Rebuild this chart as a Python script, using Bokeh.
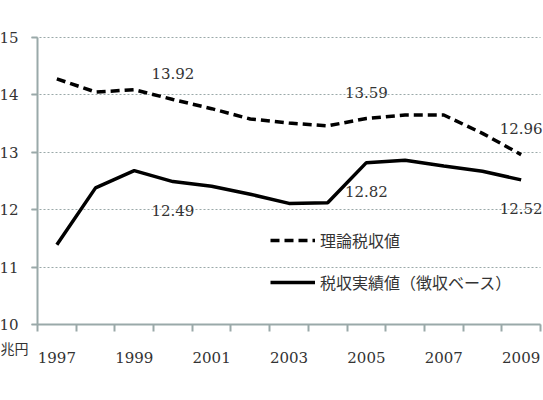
from bokeh.plotting import figure
from bokeh.models import FixedTicker, Legend, LegendItem, Label, Range1d, ColumnDataSource
from bokeh.embed import file_html
from bokeh.resources import INLINE
from bokeh.core.properties import value

# Fiscal years and tax revenue (trillion yen)
years = list(range(1997, 2010))
theory = [14.28, 14.05, 14.09, 13.92, 13.76, 13.58, 13.51, 13.46, 13.59, 13.65, 13.65, 13.33, 12.96]
actual = [11.39, 12.38, 12.68, 12.49, 12.41, 12.27, 12.11, 12.12, 12.82, 12.86, 12.76, 12.67, 12.52]
label_years = [2000, 2005, 2009]
year_ticks = [1997, 1999, 2001, 2003, 2005, 2007, 2009]
y_ticks = [10, 11, 12, 13, 14, 15]
name_theory = "理論税収値"
name_actual = "税収実績値（徴収ベース）"
unit = "兆円"

W, H = 543, 400
# plot box in pixels (left, right, top, bottom)
BL, BR, BT, BB = 37, 540, 37, 324

SERIF = "DejaVu Serif"
CJK = "Noto Sans CJK JP"
TEXT = "#333333"
AXIS = "#9aa9a9"

x0, x1 = years[0] - 0.5, years[-1] + 0.5
y0, y1 = y_ticks[0], y_ticks[-1]
kx = (x1 - x0) / (BR - BL)
ky = (y1 - y0) / (BB - BT)

# the frame fills the whole canvas; axes are pinned at the box edges
p = figure(width=W, height=H,
           x_range=Range1d(x0 - BL * kx, x1 + (W - BR) * kx),
           y_range=Range1d(y0 - (H - BB) * ky, y1 + BT * ky),
           output_backend="svg", toolbar_location=None, min_border=0)
p.outline_line_color = None
p.xgrid.grid_line_color = None
p.ygrid.grid_line_color = AXIS
p.ygrid.grid_line_dash = "2 2"
p.ygrid.grid_line_width = 1
p.ygrid.ticker = FixedTicker(ticks=y_ticks)
p.ygrid.bounds = (y0, y1)
p.ygrid.cross_bounds = (x0 - 6 * kx, x1)

p.xaxis.fixed_location = y0
p.yaxis.fixed_location = x0
p.xaxis.bounds = (x0, x1)
p.yaxis.bounds = (y0, y1)

# x axis: tick marks between years, labels on odd years
p.xaxis.ticker = FixedTicker(ticks=year_ticks,
                             minor_ticks=[y - 0.5 for y in years] + [x1])
p.xaxis.major_tick_out = 0
p.xaxis.major_tick_in = 0
p.xaxis.minor_tick_out = 7
p.xaxis.minor_tick_in = 0
p.xaxis.minor_tick_line_color = AXIS
p.xaxis.minor_tick_line_width = 2
p.xaxis.major_label_standoff = 20

p.yaxis.ticker = FixedTicker(ticks=y_ticks)
p.yaxis.major_tick_out = 6
p.yaxis.major_tick_in = 0
p.yaxis.minor_tick_line_color = None
p.yaxis.major_label_standoff = 13

for ax in (p.xaxis, p.yaxis):
    ax.axis_line_color = AXIS
    ax.axis_line_width = 2
    ax.major_tick_line_color = AXIS
    ax.major_tick_line_width = 2
    ax.major_label_text_font = SERIF
    ax.major_label_text_font_size = "15px"
    ax.major_label_text_color = TEXT

src = ColumnDataSource(dict(x=years, theory=theory, actual=actual))
r1 = p.line("x", "theory", source=src, line_color="black", line_width=3.5, line_dash="9 5")
r2 = p.line("x", "actual", source=src, line_color="black", line_width=3.5)

# value labels for selected years
idx = [years.index(y) for y in label_years]
lab_t = ColumnDataSource(dict(x=label_years, y=[theory[i] for i in idx],
                              t=["%.2f" % theory[i] for i in idx]))
lab_a = ColumnDataSource(dict(x=label_years, y=[actual[i] for i in idx],
                              t=["%.2f" % actual[i] for i in idx]))
for s, off in ((lab_t, -26), (lab_a, 29)):
    p.text("x", "y", text="t", source=s, y_offset=off,
           text_align="center", text_baseline="middle",
           text_font=value(SERIF), text_font_size="15px", text_color=TEXT)

legend = Legend(items=[LegendItem(label=name_theory, renderers=[r1]),
                       LegendItem(label=name_actual, renderers=[r2])],
                location=(270, H - 294), orientation="vertical",
                border_line_color=None, background_fill_alpha=0,
                label_text_font=CJK, label_text_font_size="16px", label_text_color=TEXT,
                glyph_width=45, glyph_height=20, label_height=20,
                spacing=18, padding=0, margin=0, label_standoff=5)
p.add_layout(legend)

p.add_layout(Label(x=0, y=H - 347, x_units="screen", y_units="screen", text=unit,
                   text_font=CJK, text_font_size="14px", text_color=TEXT,
                   text_align="left", text_baseline="middle"))

open("out.html", "w").write(file_html(p, INLINE))
